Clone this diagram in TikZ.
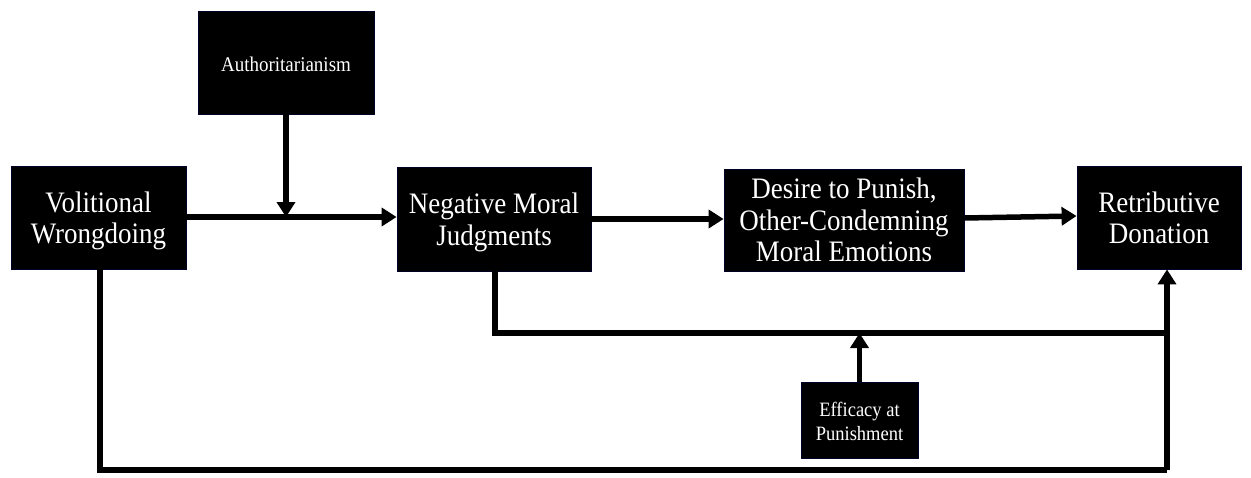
\documentclass[tikz,border=0pt]{standalone}
\usepackage{fontspec}
\setmainfont{Liberation Serif}
\usetikzlibrary{arrows.meta}
\newcommand{\vtxt}[1]{\raisebox{-4pt}[\height][\depth]{\scalebox{1}[1.1]{\begin{tabular}{@{}c@{}}#1\end{tabular}}}}
\begin{document}
\begin{tikzpicture}[x=1pt,y=-1pt,
  box/.style={draw=black!85!blue,fill=black,text=white,align=center,inner sep=0pt,line width=0.8pt},
  big/.style={font=\fontsize{27}{28.6}\selectfont},
  small/.style={font=\fontsize{19}{21}\selectfont},
  conn/.style={line width=5.5pt,-{Triangle[length=15pt,width=18pt]}},
  plain/.style={line width=5.5pt}]
\useasboundingbox (0,0) rectangle (1251,477);
\node[box,small,minimum width=176pt,minimum height=103pt] (auth) at (286,62.5) {\vtxt{Authoritarianism}};
\node[box,big,minimum width=175pt,minimum height=103pt] (vol) at (98.5,217.5) {\vtxt{Volitional\\Wrongdoing}};
\node[box,big,minimum width=194pt,minimum height=104pt] (nmj) at (494,219) {\vtxt{Negative Moral\\Judgments}};
\node[box,big,minimum width=240pt,minimum height=102pt] (des) at (844,220) {\vtxt{Desire to Punish,\\Other-Condemning\\Moral Emotions}};
\node[box,big,minimum width=164pt,minimum height=103pt] (ret) at (1159,217.5) {\vtxt{Retributive\\Donation}};
\node[box,font=\fontsize{18.5}{22}\selectfont,minimum width=117pt,minimum height=76pt] (eff) at (859.5,420) {\vtxt{Efficacy at\\Punishment}};
\coordinate (m1) at (286,217);
\coordinate (m2) at (859.5,333);
\coordinate (c1) at (495,333);
\coordinate (c2) at (1167,333);
\coordinate (v1) at (100,470);
\coordinate (v2) at (1167,470);
\draw[conn] (vol.east |- m1) -- (nmj.west |- m1);
\draw[conn] (auth.south) -- (m1);
\draw[conn] (nmj.east |- 0,219) -- (des.west |- 0,219);
\draw[conn] (des.east |- 0,218) -- (ret.west |- 0,216);
\draw[plain] (nmj.south -| c1) -- (c1) -- (c2);
\draw[conn] (eff.north) -- (m2);
\draw[plain] (vol.south -| v1) -- (v1) -- (v2);
\draw[conn] (v2) -- (c2) -- (ret.south -| c2);
\end{tikzpicture}
\end{document}
